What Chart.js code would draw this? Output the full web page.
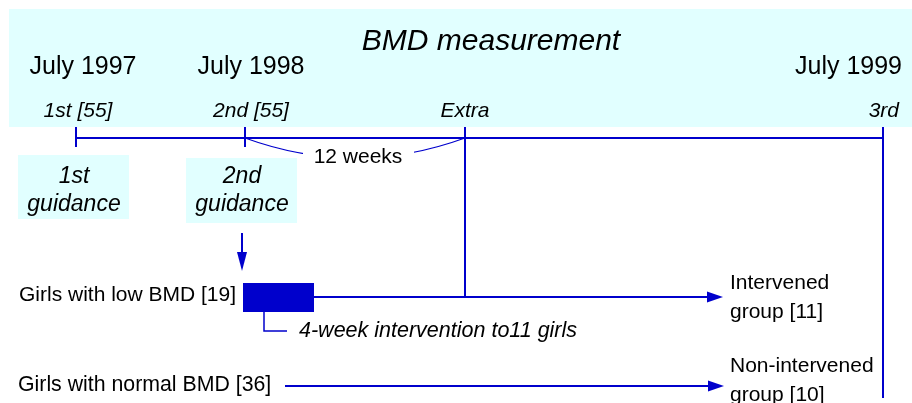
<!DOCTYPE html>
<html>
<head>
<meta charset="utf-8">
<script src="https://cdn.jsdelivr.net/npm/chart.js@4/dist/chart.umd.min.js"></script>
<style>
  html, body { margin: 0; padding: 0; background: #ffffff; }
  #wrap { width: 912px; height: 403px; }
</style>
</head>
<body>
<div id="wrap"><canvas id="c" width="912" height="403"></canvas></div>
<script>
// ---- diagram data (schematic coordinates on a 912 x 403 plane) ----
const titleText = 'BMD measurement';
const dateLabels = ['July 1997', 'July 1998', 'July 1999'];
const measureLabels = ['1st [55]', '2nd [55]', 'Extra', '3rd'];
const measureX = [76, 245, 465, 883];
const measureDropY = [147, 147, 297, 398];
const timelineY = 138;
const intervalLabel = '12 weeks';
const guidanceLabels = [['1st', 'guidance'], ['2nd', 'guidance']];
const groupLabels = ['Girls with low BMD [19]', 'Girls with normal BMD [36]'];
const groupY = [297, 386];
const groupStartX = [314, 285];
const groupEndX = [723, 724];
const outcomeLabels = [['Intervened', 'group [11]'], ['Non-intervened', 'group [10]']];
const interventionLabel = '4-week intervention to11 girls';
const interventionSpan = [243, 314];

const BLUE = '#0000CC';
const CYAN = '#E1FFFF';
const FONT = '"Liberation Sans", Arial, sans-serif';

function seg(points, width) {
  return {
    data: points.map(p => ({ x: p[0], y: p[1] })),
    showLine: true, borderColor: BLUE, borderWidth: width || 2,
    pointRadius: 0, fill: false, tension: 0
  };
}

const datasets = [];
// timeline
datasets.push(seg([[measureX[0], timelineY], [measureX[3], timelineY]]));
// markers
measureX.forEach((x, i) => datasets.push(seg([[x, 127], [x, measureDropY[i]]])));
// group lines
groupY.forEach((y, i) => datasets.push(seg([[groupStartX[i], y], [groupEndX[i] - 12, y]])));
// bracket under intervention
datasets.push(seg([[264, 312], [264, 331], [287, 331]], 1.5));
// guidance arrow shaft
datasets.push(seg([[242, 233], [242, 258]]));

const drawPlugin = {
  id: 'diagram',
  beforeDatasetsDraw(chart) {
    const ctx = chart.ctx, X = v => chart.scales.x.getPixelForValue(v), Y = v => chart.scales.y.getPixelForValue(v);
    ctx.save();
    ctx.fillStyle = CYAN;
    ctx.fillRect(X(9), Y(9), X(912) - X(9), Y(127) - Y(9));
    ctx.fillRect(X(18), Y(155), X(129) - X(18), Y(219) - Y(155));
    ctx.fillRect(X(186), Y(158), X(297) - X(186), Y(223) - Y(158));
    ctx.restore();
  },
  afterDatasetsDraw(chart) {
    const ctx = chart.ctx, X = v => chart.scales.x.getPixelForValue(v), Y = v => chart.scales.y.getPixelForValue(v);
    ctx.save();
    // intervention block
    ctx.fillStyle = BLUE;
    ctx.fillRect(X(interventionSpan[0]), Y(283), X(interventionSpan[1]) - X(interventionSpan[0]), Y(312) - Y(283));
    // arrowheads
    function tri(a, b, c) {
      ctx.beginPath(); ctx.moveTo(X(a[0]), Y(a[1])); ctx.lineTo(X(b[0]), Y(b[1])); ctx.lineTo(X(c[0]), Y(c[1])); ctx.closePath(); ctx.fill();
    }
    groupY.forEach((y, i) => tri([groupEndX[i], y], [groupEndX[i] - 16, y - 5.5], [groupEndX[i] - 16, y + 5.5]));
    tri([242, 271], [237, 252], [247, 252]);
    // 12 weeks curve with gap for label
    ctx.save();
    ctx.beginPath();
    ctx.rect(0, 0, chart.width, chart.height);
    ctx.rect(X(303), Y(142), X(414) - X(303), Y(172) - Y(142));
    ctx.clip('evenodd');
    ctx.strokeStyle = BLUE; ctx.lineWidth = 1.2;
    ctx.beginPath();
    ctx.moveTo(X(measureX[1]), Y(timelineY));
    ctx.quadraticCurveTo(X((measureX[1] + measureX[2]) / 2), Y(178), X(measureX[2]), Y(timelineY));
    ctx.stroke();
    ctx.restore();

    // texts
    ctx.fillStyle = '#000000';
    ctx.textBaseline = 'alphabetic';
    function txt(s, x, y, font, align) {
      ctx.font = font; ctx.textAlign = align || 'left'; ctx.fillText(s, X(x), Y(y));
    }
    txt(titleText, 491, 50, 'italic 30px ' + FONT, 'center');
    txt(dateLabels[0], 83, 74, '25px ' + FONT, 'center');
    txt(dateLabels[1], 251, 74, '25px ' + FONT, 'center');
    txt(dateLabels[2], 902, 74, '25px ' + FONT, 'right');
    txt(measureLabels[0], 78, 117, 'italic 21px ' + FONT, 'center');
    txt(measureLabels[1], 251, 117, 'italic 21px ' + FONT, 'center');
    txt(measureLabels[2], 465, 117, 'italic 21px ' + FONT, 'center');
    txt(measureLabels[3], 899, 117, 'italic 21px ' + FONT, 'right');
    txt(intervalLabel, 358, 163, '21px ' + FONT, 'center');
    [74, 242].forEach((cx, i) => {
      txt(guidanceLabels[i][0], cx, 183, 'italic 23px ' + FONT, 'center');
      txt(guidanceLabels[i][1], cx, 211, 'italic 23px ' + FONT, 'center');
    });
    txt(groupLabels[0], 19, 301, '21px ' + FONT, 'left');
    txt(groupLabels[1], 18, 391, '21.3px ' + FONT, 'left');
    txt(interventionLabel, 299, 337, 'italic 21.5px ' + FONT, 'left');
    txt(outcomeLabels[0][0], 730, 289, '21px ' + FONT, 'left');
    txt(outcomeLabels[0][1], 730, 318, '21px ' + FONT, 'left');
    txt(outcomeLabels[1][0], 730, 372, '21px ' + FONT, 'left');
    txt(outcomeLabels[1][1], 730, 401, '21px ' + FONT, 'left');
    ctx.restore();
  }
};

new Chart(document.getElementById('c'), {
  type: 'scatter',
  data: { datasets },
  options: {
    responsive: false,
    animation: false,
    devicePixelRatio: 1,
    layout: { padding: 0 },
    plugins: { legend: { display: false }, tooltip: { enabled: false }, title: { display: false } },
    scales: {
      x: { type: 'linear', min: 0, max: 912, display: false },
      y: { type: 'linear', min: 0, max: 403, reverse: true, display: false }
    }
  },
  plugins: [drawPlugin]
});
</script>
</body>
</html>
